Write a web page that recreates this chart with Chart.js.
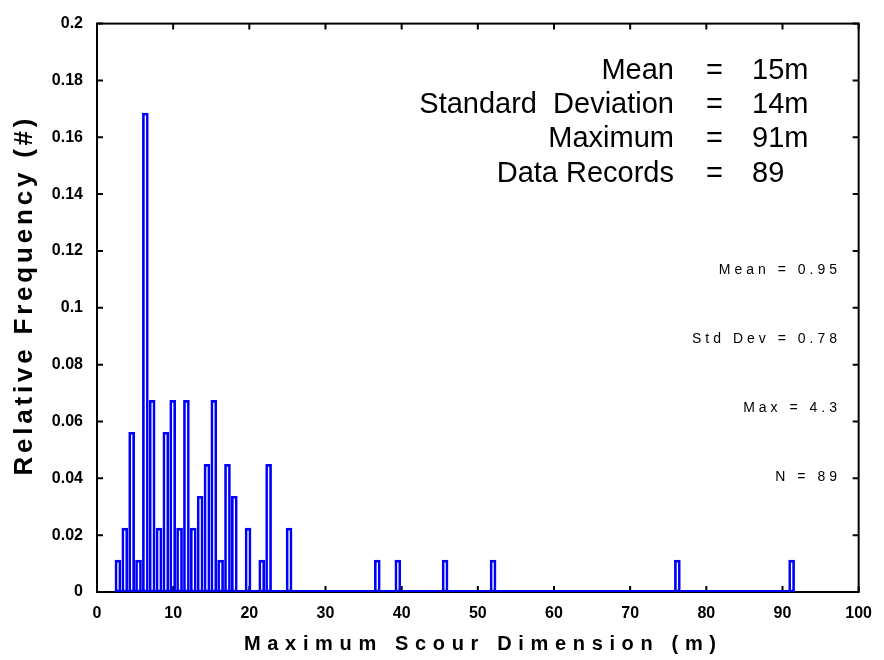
<!DOCTYPE html>
<html><head><meta charset="utf-8">
<script src="https://cdn.jsdelivr.net/npm/chart.js@4.4.1/dist/chart.umd.min.js"></script>
<style>html,body{margin:0;padding:0;background:#fff;}canvas{display:block;}</style>
</head><body>
<canvas id="c" width="884" height="660"></canvas>
<script>
// Bin centres (m) of the histogram bars
const scourDimension = [2.75, 3.65, 4.55, 5.45, 6.35, 7.24, 8.14, 9.04, 9.94, 10.84, 11.74, 12.64, 13.54, 14.44, 15.34, 16.23, 17.13, 18.03, 19.83, 21.63, 22.53, 25.22, 36.8, 39.5, 45.7, 52.0, 76.2, 91.2];
// Relative frequency of each bar
const relativeFrequency = [0.0112, 0.0225, 0.0562, 0.0112, 0.1685, 0.0674, 0.0225, 0.0562, 0.0674, 0.0225, 0.0674, 0.0225, 0.0337, 0.0449, 0.0674, 0.0112, 0.0449, 0.0337, 0.0225, 0.0112, 0.0449, 0.0225, 0.0112, 0.0112, 0.0112, 0.0112, 0.0112, 0.0112];
const xTickLabels = ['0','10','20','30','40','50','60','70','80','90','100'];
const yTickLabels = ['0','0.02','0.04','0.06','0.08','0.1','0.12','0.14','0.16','0.18','0.2'];
const summaryLabels = ['Mean', 'Standard  Deviation', 'Maximum', 'Data Records'];
const summaryValues = ['15m', '14m', '91m', '89'];
const fitStats = ['Mean = 0.95', 'Std Dev = 0.78', 'Max = 4.3', 'N = 89'];
const xTitle = 'Maximum Scour Dimension (m)';
const yTitle = 'Relative Frequency (#)';

const FONT = "'Liberation Sans', Arial, Helvetica, sans-serif";
const BLUE = '#0000ff';

function spacedWidth(ctx, text, sp) {
  let w = 0;
  for (const ch of text) w += ctx.measureText(ch).width;
  return w + sp * (text.length - 1);
}
function drawSpaced(ctx, text, x, y, sp, align) {
  const w = spacedWidth(ctx, text, sp);
  let cx = align === 'center' ? x - w / 2 : (align === 'right' ? x - w : x);
  ctx.textAlign = 'left';
  for (const ch of text) { ctx.fillText(ch, cx, y); cx += ctx.measureText(ch).width + sp; }
}
function drawFitted(ctx, text, x, y, targetW) {
  const base = spacedWidth(ctx, text, 0);
  drawSpaced(ctx, text, x, y, (targetW - base) / (text.length - 1), 'center');
}

const decor = {
  id: 'decor',
  beforeDatasetsDraw(chart) {
    const {ctx, chartArea: a, scales: {x, y}} = chart;
    ctx.save();
    ctx.strokeStyle = '#000';
    ctx.lineWidth = 2;
    ctx.strokeRect(a.left, a.top, a.right - a.left, a.bottom - a.top);
    const tl = 6;
    ctx.beginPath();
    x.ticks.forEach(t => {
      const px = x.getPixelForValue(t.value);
      ctx.moveTo(px, a.bottom); ctx.lineTo(px, a.bottom - tl);
      ctx.moveTo(px, a.top); ctx.lineTo(px, a.top + tl);
    });
    y.ticks.forEach(t => {
      const py = y.getPixelForValue(t.value);
      ctx.moveTo(a.left, py); ctx.lineTo(a.left + tl, py);
      ctx.moveTo(a.right, py); ctx.lineTo(a.right - tl, py);
    });
    ctx.stroke();
    ctx.restore();
  },
  afterDatasetsDraw(chart) {
    const {ctx} = chart;
    const meta = chart.getDatasetMeta(0);
    const first = meta.data[0], last = meta.data[meta.data.length - 1];
    const y0 = chart.scales.y.getPixelForValue(0);
    const l = first.x - first.width / 2, r = last.x + last.width / 2;
    ctx.save();
    ctx.fillStyle = BLUE;
    ctx.fillRect(l, y0 - 2, r - l, 2);

    ctx.fillStyle = '#000';
    ctx.textBaseline = 'alphabetic';
    ctx.font = '29px ' + FONT;
    summaryLabels.forEach((s, i) => {
      const by = 78.5 + i * 34.4;
      ctx.textAlign = 'right'; ctx.fillText(s, 674, by);
      ctx.textAlign = 'center'; ctx.fillText('=', 714.5, by);
      ctx.textAlign = 'left'; ctx.fillText(summaryValues[i], 752, by);
    });
    ctx.font = '14px ' + FONT;
    fitStats.forEach((s, i) => {
      drawSpaced(ctx, s, 837, 274.3 + i * 69, 4.0, 'right');
    });
    ctx.font = 'bold 20px ' + FONT;
    drawFitted(ctx, xTitle, 480, 650, 472);
    ctx.save();
    ctx.translate(32, 297);
    ctx.rotate(-Math.PI / 2);
    ctx.font = 'bold 26px ' + FONT;
    drawFitted(ctx, yTitle, 0, 0, 357);
    ctx.restore();
    ctx.restore();
  }
};

new Chart(document.getElementById('c'), {
  type: 'bar',
  data: {
    datasets: [{
      data: scourDimension.map((v, i) => ({x: v, y: relativeFrequency[i]})),
      backgroundColor: 'rgba(0,0,0,0)',
      borderColor: BLUE,
      borderWidth: 2,
      borderSkipped: false,
      barThickness: 6
    }]
  },
  options: {
    responsive: false,
    animation: false,
    devicePixelRatio: 1,
    layout: {padding: {left: 0, right: 24, top: 17, bottom: 0}},
    plugins: {legend: {display: false}, tooltip: {enabled: false}},
    scales: {
      x: {
        type: 'linear', min: 0, max: 100, offset: false,
        ticks: {stepSize: 10, padding: 12, maxRotation: 0, autoSkip: false, color: '#000',
          font: {family: FONT, size: 16, weight: 'bold'},
          callback: (v, i) => xTickLabels[i]},
        grid: {display: false, drawTicks: false, offset: false},
        border: {display: false},
        afterFit: s => { s.height = 68; }
      },
      y: {
        min: 0, max: 0.2,
        ticks: {stepSize: 0.02, padding: 14, color: '#000',
          font: {family: FONT, size: 16, weight: 'bold'},
          callback: (v, i) => yTickLabels[i]},
        grid: {display: false, drawTicks: false},
        border: {display: false},
        afterFit: s => { s.width = 97; }
      }
    }
  },
  plugins: [decor]
});
</script>
</body></html>
